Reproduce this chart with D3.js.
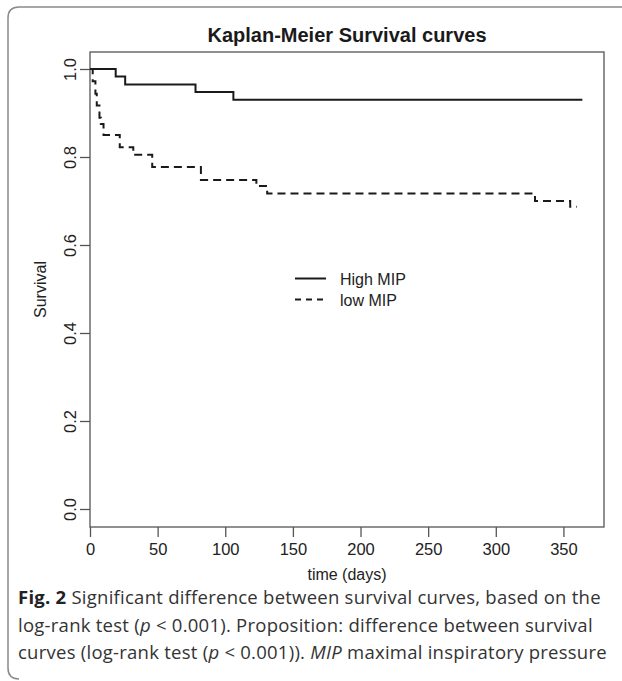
<!DOCTYPE html>
<head>
    <title>Kaplan-Meier Survival curves</title>
    <style>
        body { margin: 0; background: #fff; }
        svg { display: block; }
    </style>
    <script src="https://d3js.org/d3.v7.min.js"></script>
</head>
<body>
    <svg width="622" height="681"></svg>

    <script>
        // survival steps (time in days, survival fraction)
        var highTimes = [0, 19, 26, 78, 106, 364];
        var highSurv  = [1.0, 0.983, 0.965, 0.948, 0.930, 0.930];

        var lowTimes = [0, 2, 4, 5, 7, 8, 10, 22, 32, 46, 82, 123, 131, 329, 355, 360];
        var lowSurv  = [1.0, 0.972, 0.944, 0.917, 0.889, 0.875, 0.850, 0.822, 0.805, 0.777, 0.748, 0.734, 0.717, 0.700, 0.687, 0.687];

        var xTicks = [0, 50, 100, 150, 200, 250, 300, 350];
        var yTicks = [0.0, 0.2, 0.4, 0.6, 0.8, 1.0];

        var legendNames = ["High MIP", "low MIP"];

        var svg = d3.select("svg");

        // figure frame, rounded corners on the left side
        svg.append("path")
            .attr("d", "M622,7 L19,7 Q8,7 8,18 L8,668 Q8,679 19,679")
            .attr("fill", "none")
            .attr("stroke", "#8a8a8a")
            .attr("stroke-width", 1.5);

        var box = {left: 90, top: 52, right: 604, bottom: 527};

        var x = d3.scaleLinear().domain([0, 380]).range([box.left, box.right]);
        var y = d3.scaleLinear().domain([0, 1]).range([509, 69]);

        svg.append("text")
            .attr("x", (box.left + box.right) / 2)
            .attr("y", 41.5)
            .attr("text-anchor", "middle")
            .attr("font-family", "Liberation Sans, Arial, sans-serif")
            .attr("font-weight", "bold")
            .attr("font-size", 20)
            .attr("fill", "#1a1a1a")
            .text("Kaplan-Meier Survival curves");

        // x axis (ticks hang under the box)
        var xAxis = svg.append("g")
            .attr("transform", "translate(0," + box.bottom + ")")
            .call(d3.axisBottom(x).tickValues(xTicks).tickSize(10).tickPadding(6).tickSizeOuter(0));
        xAxis.select(".domain").remove();
        xAxis.selectAll("line").attr("stroke", "#555").attr("stroke-width", 1.3);
        xAxis.selectAll("text")
            .attr("font-family", "Liberation Sans, Arial, sans-serif")
            .attr("font-size", 16.5)
            .attr("fill", "#222");

        // y axis, labels turned like in R
        var yAxis = svg.append("g")
            .attr("transform", "translate(" + box.left + ",0)")
            .call(d3.axisLeft(y).tickValues(yTicks).tickSize(10).tickFormat(d3.format(".1f")).tickSizeOuter(0));
        yAxis.select(".domain").remove();
        yAxis.selectAll("line").attr("stroke", "#555").attr("stroke-width", 1.3);
        yAxis.selectAll("text")
            .attr("x", null).attr("dy", null)
            .attr("transform", "translate(-14,0) rotate(-90)")
            .attr("text-anchor", "middle")
            .attr("font-family", "Liberation Sans, Arial, sans-serif")
            .attr("font-size", 16.5)
            .attr("fill", "#222");

        // plot box
        svg.append("rect")
            .attr("x", box.left).attr("y", box.top)
            .attr("width", box.right - box.left).attr("height", box.bottom - box.top)
            .attr("fill", "none")
            .attr("stroke", "#555")
            .attr("stroke-width", 1.3);

        svg.append("text")
            .attr("x", (box.left + box.right) / 2)
            .attr("y", 580)
            .attr("text-anchor", "middle")
            .attr("font-family", "Liberation Sans, Arial, sans-serif")
            .attr("font-size", 16)
            .attr("fill", "#222")
            .text("time (days)");

        svg.append("text")
            .attr("transform", "translate(46," + ((box.top + box.bottom) / 2) + ") rotate(-90)")
            .attr("text-anchor", "middle")
            .attr("font-family", "Liberation Sans, Arial, sans-serif")
            .attr("font-size", 16)
            .attr("fill", "#222")
            .text("Survival");

        // curves
        var line = d3.line()
            .x(d => x(d[0]))
            .y(d => y(d[1]))
            .curve(d3.curveStepAfter);

        svg.append("path")
            .attr("d", line(d3.zip(highTimes, highSurv)))
            .attr("fill", "none")
            .attr("stroke", "#1a1a1a")
            .attr("stroke-width", 2);

        svg.append("path")
            .attr("d", line(d3.zip(lowTimes, lowSurv)))
            .attr("fill", "none")
            .attr("stroke", "#1a1a1a")
            .attr("stroke-width", 2)
            .attr("stroke-dasharray", "8,5");

        // legend
        var legend = svg.append("g");
        legendNames.forEach(function (name, i) {
            var ly = 278.5 + i * 21;
            legend.append("line")
                .attr("x1", 295).attr("x2", 326)
                .attr("y1", ly).attr("y2", ly)
                .attr("stroke", "#1a1a1a")
                .attr("stroke-width", 2)
                .attr("stroke-dasharray", i == 1 ? "6,5" : null);
            legend.append("text")
                .attr("x", 340).attr("y", ly + 6)
                .attr("font-family", "Liberation Sans, Arial, sans-serif")
                .attr("font-size", 16)
                .attr("fill", "#222")
                .text(name);
        });

        // caption
        var cap = svg.append("text")
            .attr("font-family", "Open Sans, Noto Sans, sans-serif")
            .attr("font-size", 18.5)
            .attr("letter-spacing", 0.25)
            .attr("fill", "#333");

        var l1 = cap.append("tspan").attr("x", 18).attr("y", 604);
        l1.append("tspan").attr("font-weight", "bold").attr("fill", "#222").text("Fig. 2");
        l1.append("tspan").text(" Significant difference between survival curves, based on the");

        var l2 = cap.append("tspan").attr("x", 18).attr("y", 631.5);
        l2.append("tspan").text("log-rank test (");
        l2.append("tspan").attr("font-style", "italic").text("p");
        l2.append("tspan").text(" < 0.001). Proposition: difference between survival");

        var l3 = cap.append("tspan").attr("x", 18).attr("y", 659);
        l3.append("tspan").text("curves (log-rank test (");
        l3.append("tspan").attr("font-style", "italic").text("p");
        l3.append("tspan").text(" < 0.001)). ");
        l3.append("tspan").attr("font-style", "italic").text("MIP");
        l3.append("tspan").text(" maximal inspiratory pressure");
    </script>
</body>
</html>
